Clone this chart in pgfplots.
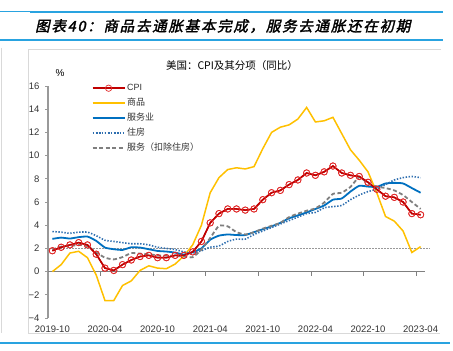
\documentclass[border=0pt]{standalone}
\usepackage{fontspec}
\setmainfont{Liberation Sans}
\newfontfamily\cjk{Noto Sans CJK SC}
\newfontfamily\cjktitle{Noto Sans CJK SC}[FakeSlant=0.22,FakeBold=2,LetterSpace=12]
\usepackage{pgfplots}
\pgfplotsset{compat=1.18}
\usepackage{pgfplotstable}
\definecolor{cpired}{RGB}{192,0,0}
\definecolor{cpimark}{RGB}{224,40,40}
\definecolor{goodsy}{RGB}{255,192,0}
\definecolor{servb}{RGB}{0,112,192}
\definecolor{shelterb}{RGB}{46,110,175}
\definecolor{servg}{RGB}{127,127,127}
\definecolor{frameblue}{RGB}{41,163,224}
\pgfplotstableread{
i cpi goods serv shelter servx
0 1.8 0.0 2.82 3.45 1.9
1 2.1 0.6 2.93 3.4 2.15
2 2.3 1.6 2.85 3.3 2.2
3 2.5 1.75 2.97 3.4 2.3
4 2.3 1.2 3.02 3.4 2.2
5 1.5 -0.3 2.65 3.1 1.65
6 0.3 -2.5 2.07 2.7 1.2
7 0.1 -2.5 1.93 2.6 1.05
8 0.6 -1.2 1.87 2.5 1.25
9 1.0 -0.8 2.1 2.4 1.6
10 1.3 0.1 2.07 2.4 1.55
11 1.4 0.5 1.93 2.3 1.5
12 1.2 0.3 1.78 2.1 1.4
13 1.2 0.25 1.73 2.0 1.38
14 1.4 0.65 1.64 1.9 1.35
15 1.4 1.35 1.47 1.7 1.3
16 1.7 2.3 1.67 1.6 1.24
17 2.6 4.0 2.0 1.8 1.9
18 4.2 6.8 2.75 2.1 2.9
19 5.0 8.1 3.1 2.2 3.95
20 5.4 8.8 3.2 2.6 3.9
21 5.4 8.95 3.15 2.8 3.4
22 5.3 8.85 3.15 2.8 3.2
23 5.4 9.05 3.4 3.2 3.4
24 6.2 10.6 3.65 3.5 3.7
25 6.8 12.0 3.9 3.8 3.95
26 7.0 12.45 4.2 4.1 4.2
27 7.5 12.65 4.6 4.4 4.7
28 7.9 13.15 4.85 4.7 5.0
29 8.5 14.15 5.1 5.0 5.25
30 8.3 12.9 5.4 5.1 5.45
31 8.6 13.0 5.7 5.5 5.95
32 9.1 13.3 6.2 5.6 6.7
33 8.5 11.9 6.3 5.7 6.8
34 8.3 10.5 6.9 6.2 7.3
35 8.2 9.6 7.4 6.6 8.15
36 7.7 8.6 7.33 6.9 7.6
37 7.1 6.8 7.3 7.1 7.33
38 6.5 4.75 7.6 7.5 7.2
39 6.4 4.35 7.65 7.9 7.0
40 6.0 3.5 7.6 8.1 6.6
41 5.0 1.65 7.2 8.2 6.0
42 4.9 2.15 6.8 8.1 5.4
}\datatable
\begin{document}
\begin{tikzpicture}
\path[use as bounding box] (0pt,0pt) rectangle (453pt,351pt);
% frame lines
\draw[frameblue, line width=1pt] (0pt,339pt) -- (30pt,339pt);
\draw[frameblue, line width=1.8pt] (30pt,339pt) -- (443pt,339pt);
\draw[frameblue, line width=1.2pt] (0pt,311pt) -- (443pt,311pt);
\draw[frameblue, line width=1.2pt] (0pt,8pt) -- (450pt,8pt);
\draw[black!15, line width=0.8pt] (441pt,302pt) -- (28pt,302pt) -- (28pt,18pt) -- (440pt,18pt);
\draw[black!15, line width=0.8pt] (1pt,303pt) -- (1pt,18pt);
% title
\node[anchor=west, inner sep=0pt] at (35pt,325pt) {\cjktitle\fontsize{14.5}{16}\selectfont 图表40：商品去通胀基本完成，服务去通胀还在初期};
\node[inner sep=0pt] at (232pt,285pt) {\cjk\fontsize{10.5}{12}\selectfont 美国：CPI及其分项（同比）};
\node[inner sep=0pt] at (60pt,278pt) {\fontsize{10}{12}\selectfont \%};
\begin{axis}[
  at={(48pt,33pt)}, anchor=south west,
  scale only axis, width=377pt, height=232pt,
  xmin=0, xmax=43, ymin=-4, ymax=16,
  clip=false,
  axis y line*=left, axis x line*=bottom,
  x axis line style={draw=none},
  y axis line style={draw=black!40, line width=1.5pt},
  xtick={0.5,6.5,12.5,18.5,24.5,30.5,36.5,42.5},
  xticklabels={2019-10,2020-04,2020-10,2021-04,2021-10,2022-04,2022-10,2023-04},
  x tick style={draw=none},
  ytick={-4,-2,0,2,4,6,8,10,12,14,16},
  yticklabels={−4,−2,0,2,4,6,8,10,12,14,16},
  y tick style={draw=black!40, line width=0.8pt},
  tick align=outside, major tick length=3pt,
  tick label style={font=\fontsize{9.5}{11}\selectfont, text=black!80},
  yticklabel style={xshift=-2pt},
  xticklabel style={yshift=-1pt},
  legend cell align=left,
  legend style={at={(axis description cs:0.1154,1.0237)}, anchor=north west,
    draw=none, fill=none, inner sep=0pt, row sep=0pt,
    nodes={inner xsep=1.5pt, inner ysep=3pt, text height=7pt, text depth=2pt, font=\cjk\fontsize{9}{10}\selectfont, text=black!80}},
  legend image code/.code={\draw[#1, mark repeat=2, mark phase=2] plot coordinates {(0pt,0pt) (16pt,0pt) (32pt,0pt)};},
]
% zero line and ticks
\draw[black!50, line width=1pt] (axis cs:0,0) -- (axis cs:43,0);
\pgfplotsinvokeforeach{6,12,18,24,30,36,42}{\draw[black!50, line width=0.8pt] (axis cs:#1,0) -- ++(0pt,-4pt);}
\addplot[forget plot, black!40, line width=0.6pt, dash pattern=on 1.5pt off 1.5pt] coordinates {(0,2) (43.6,2)};
\addplot[cpired, line width=1.5pt, mark=o, mark size=3.2pt, mark options={draw=cpimark, line width=0.7pt, solid}] table[x expr=\thisrow{i}+0.5, y=cpi] {\datatable};
\addlegendentry{\fontspec{Liberation Sans}CPI}
\addplot[goodsy, line width=1.5pt] table[x expr=\thisrow{i}+0.5, y=goods] {\datatable};
\addlegendentry{商品}
\addplot[servb, line width=1.8pt, smooth, tension=0.3] table[x expr=\thisrow{i}+0.5, y=serv] {\datatable};
\addlegendentry{服务业}
\addplot[shelterb, line width=1.6pt, dash pattern=on 1.4pt off 1.6pt, smooth, tension=0.3] table[x expr=\thisrow{i}+0.5, y=shelter] {\datatable};
\addlegendentry{住房}
\addplot[servg, line width=1.8pt, dash pattern=on 4pt off 2.5pt, smooth, tension=0.3] table[x expr=\thisrow{i}+0.5, y=servx] {\datatable};
\addlegendentry{服务（扣除住房）}
\addplot[forget plot, cpired, line width=1.5pt, mark=o, mark size=3.2pt, mark options={draw=cpimark, line width=0.7pt, solid}] table[x expr=\thisrow{i}+0.5, y=cpi] {\datatable};
\end{axis}
\end{tikzpicture}
\end{document}
